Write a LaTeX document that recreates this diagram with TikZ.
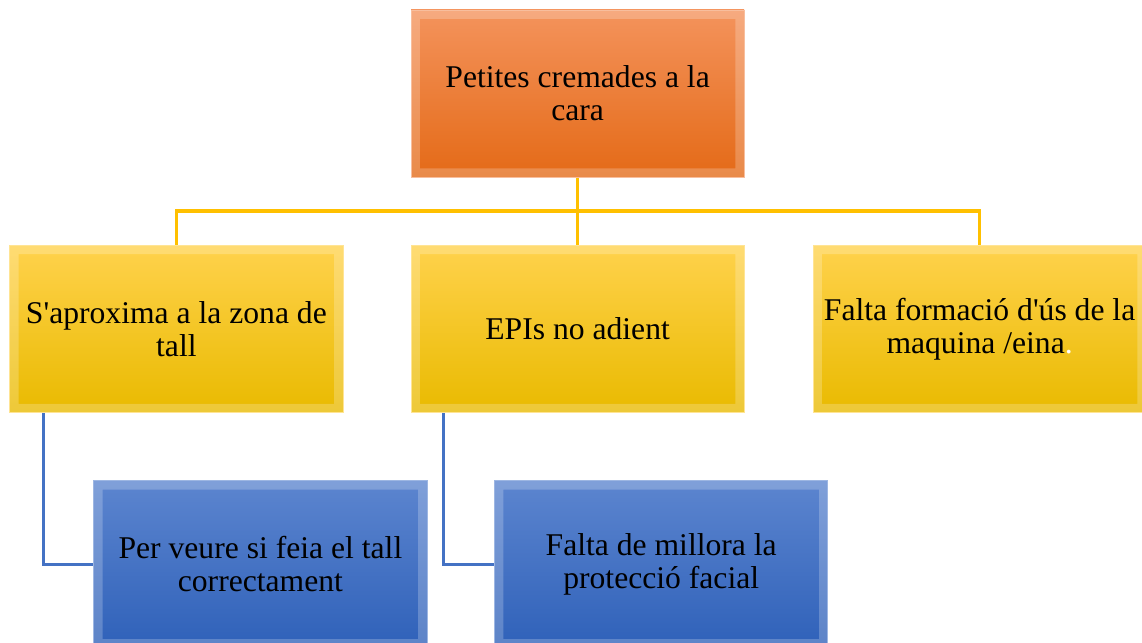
\documentclass[tikz,border=0pt]{standalone}
\usepackage{fontspec}
\setmainfont{Liberation Serif}
\usetikzlibrary{positioning,calc}
\definecolor{cORGt}{HTML}{F4935C}
\definecolor{cORGb}{HTML}{E46A17}
\definecolor{cYELt}{HTML}{FFD24C}
\definecolor{cYELb}{HTML}{E9BA00}
\definecolor{cBLUt}{HTML}{5C85CF}
\definecolor{cBLUb}{HTML}{2F61B9}
\definecolor{cYLN}{HTML}{FFC000}
\definecolor{cBLN}{HTML}{4472C4}

\begin{document}
\begin{tikzpicture}[font=\fontsize{22.5}{23.5}\selectfont,
  box/.style={shade, minimum width=8.33cm, minimum height=4.18cm, align=center, inner sep=0pt, line width=0.6pt,
    path picture={\fill[white, opacity=0.22, even odd rule]
      (path picture bounding box.south west) rectangle (path picture bounding box.north east)
      ([shift={(0.22,0.22)}]path picture bounding box.south west) rectangle ([shift={(-0.22,-0.22)}]path picture bounding box.north east);}},
  org/.style={box, top color=cORGt, bottom color=cORGb, draw=cORGt!60!white},
  yel/.style={box, top color=cYELt, bottom color=cYELb, draw=cYELt!60!white},
  blu/.style={box, top color=cBLUt, bottom color=cBLUb, draw=cBLUt!60!white},
  ylink/.style={draw=cYLN, line width=2.2pt},
  blink/.style={draw=cBLN, line width=1.6pt}]
\useasboundingbox (0,0) rectangle (28.55,16.05);
\clip (0,0) rectangle (28.55,16.05);
\node[org] (top) at (14.44,13.71) {Petites cremades a la\\ cara};
\node[yel] (apro) at (4.41,7.825) {S\textquotesingle aproxima a la zona de\\ tall};
\node[yel] (epis) at (14.44,7.825) {EPIs no adient};
\node[yel] (form) at (24.49,7.825) {Falta formació d\textquotesingle ús de la\\ maquina /eina{\color{white}.}};
\node[blu] (veure) at (6.51,1.94) {Per veure si feia el tall\\ correctament};
\node[blu] (prot) at (16.53,1.94) {Falta de millora la\\ protecció facial};
% links
\coordinate (bar) at (14.44,10.775);
\draw[ylink] (top.south) -- (bar);
\draw[ylink] (bar) -| (apro.north);
\draw[ylink] (bar) -- (epis.north);
\draw[ylink] (bar) -| (form.north);
\draw[blink] ([xshift=0.85cm]apro.south west) |- (veure.west);
\draw[blink] ([xshift=0.82cm]epis.south west) |- (prot.west);
\end{tikzpicture}
\end{document}
